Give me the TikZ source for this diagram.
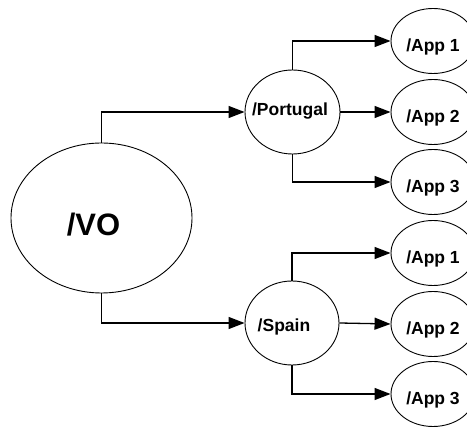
\documentclass[tikz,border=0pt]{standalone}
\usepackage{fontspec}
\setmainfont{Liberation Sans}
\usetikzlibrary{shapes.geometric,arrows.meta}
\newcommand{\shiftlbl}[2]{\makebox[0pt]{\hspace*{#1}#2}}
\tikzset{
  ell/.style={ellipse, draw, line width=0.9pt, inner sep=0pt, font=\bfseries\fontsize{17.5}{20}\selectfont},
  appell/.style={ell, minimum width=84pt, minimum height=65pt, text height=21.5pt, text depth=0pt},
  conn/.style={line width=1.3pt, -{Triangle[length=16pt,width=12pt]}},
}
\begin{document}
\begin{tikzpicture}[x=1pt,y=-1pt]
\useasboundingbox (0,0) rectangle (467,427);
\clip (0,0) rectangle (467,427);
\node[ell, minimum width=181pt, minimum height=150pt, font=\bfseries\fontsize{31}{34}\selectfont, text height=36pt, text depth=0pt] (vo) at (101.5,218) {\shiftlbl{-16pt}{/VO}};
\node[ell, minimum width=95pt, minimum height=84pt, text height=6.5pt, text depth=0pt] (pt) at (292.5,112) {\shiftlbl{-5pt}{/Portugal}};
\node[ell, minimum width=94pt, minimum height=84pt, text height=18pt, text depth=0pt] (es) at (292,323) {\shiftlbl{-16pt}{/Spain}};
\node[appell] (p1) at (433,41) {\makebox[0pt]{/App 1}};
\node[appell] (p2) at (433,112) {\makebox[0pt]{/App 2}};
\node[appell] (p3) at (433,182) {\makebox[0pt]{/App 3}};
\node[appell] (s1) at (433,253) {\makebox[0pt]{/App 1}};
\node[appell] (s2) at (433,324) {\makebox[0pt]{/App 2}};
\node[appell] (s3) at (433,394) {\makebox[0pt]{/App 3}};
\draw[conn] (vo.north) |- (pt.west);
\draw[conn] (vo.south) |- (es.west);
\draw[conn] (pt.north) |- (p1.west);
\draw[conn] (pt.east) -- (p2.west);
\draw[conn] (pt.south) |- (p3.west);
\draw[conn] (es.north) |- (s1.west);
\draw[conn] (es.east) -- (s2.west);
\draw[conn] (es.south) |- (s3.west);
\end{tikzpicture}
\end{document}
